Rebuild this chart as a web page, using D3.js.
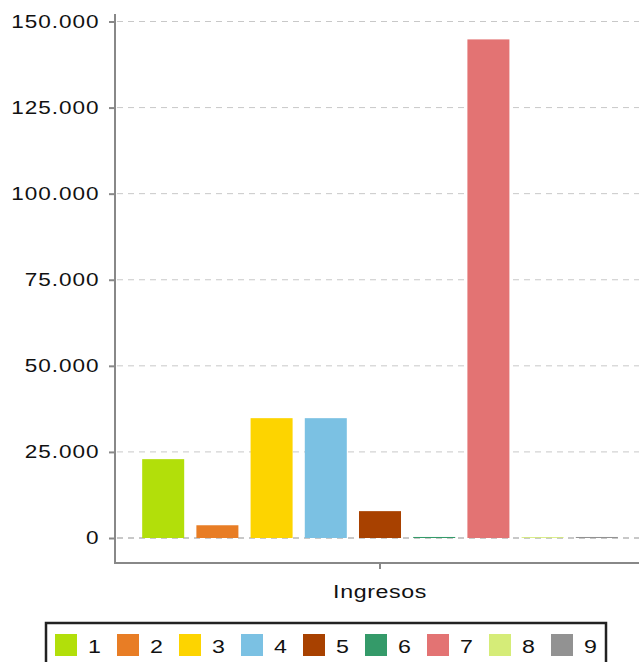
<!DOCTYPE html>
<html>
<head>
<meta charset="utf-8">
<script src="https://cdn.jsdelivr.net/npm/d3@7"></script>
<style>
	body { margin: 0; background: #fff; }
	text { font-family: "Liberation Sans", Arial, sans-serif; }
</style>
</head>
<body>
<div id="chart"></div>
<script>
const categories = ['Ingresos'];
const seriesNames = ['1', '2', '3', '4', '5', '6', '7', '8', '9'];
const seriesValues = [22900, 3700, 34800, 34800, 7800, 300, 144800, 250, 300];
const seriesColors = ['#b2df0a', '#e87d25', '#fdd400', '#7bc1e3', '#a84100', '#349a69', '#e37373', '#d5ec78', '#929292'];
const yTicks = [0, 25000, 50000, 75000, 100000, 125000, 150000];

const width = 639;
const height = 662;
const stretch = 1.22; // text in the picture is drawn wide

const svg = d3.select('#chart').append('svg')
	.attr('width', width)
	.attr('height', height);

const locale = d3.formatLocale({ decimal: ',', thousands: '.', grouping: [3], currency: ['', ''] });
const fmt = locale.format(',d');

const yScale = d3.scaleLinear()
	.domain([0, 150000])
	.range([538, 21.5]);

const x0 = d3.scaleBand()
	.domain(categories)
	.range([115, 645])
	.padding(0.0291);

const x1 = d3.scaleBand()
	.domain(seriesNames)
	.range([0, x0.bandwidth()])
	.padding(0.225);

const color = d3.scaleOrdinal().domain(seriesNames).range(seriesColors);

// gridlines
svg.append('g')
	.selectAll('line')
	.data(yTicks)
	.join('line')
	.attr('x1', 117)
	.attr('x2', width)
	.attr('y1', (d) => yScale(d))
	.attr('y2', (d) => yScale(d))
	.attr('stroke', '#c8c8c8')
	.attr('stroke-width', (d) => (d === 0 ? 2 : 1))
	.attr('stroke-dasharray', '6,5');

// bars
const data = seriesNames.map((s, i) => ({ key: s, value: seriesValues[i] }));
svg.append('g')
	.attr('transform', `translate(${x0('Ingresos')},0)`)
	.selectAll('rect')
	.data(data)
	.join('rect')
	.attr('x', (d) => x1(d.key))
	.attr('width', x1.bandwidth())
	.attr('y', (d) => yScale(d.value))
	.attr('height', (d) => yScale(0) - yScale(d.value))
	.attr('fill', (d) => color(d.key));

// y axis
const yAxis = d3.axisLeft(yScale)
	.tickValues(yTicks)
	.tickFormat(fmt)
	.tickSize(6);

const yG = svg.append('g')
	.attr('transform', 'translate(115,0)')
	.call(yAxis);
yG.select('.domain').remove();
yG.selectAll('.tick line').attr('stroke', '#888').attr('stroke-width', 2);
yG.selectAll('.tick text')
	.attr('fill', '#111')
	.attr('x', -15.5 / stretch)
	.attr('transform', `scale(${stretch},1)`)
	.style('font-size', '18.5px')
	.style('letter-spacing', '0.8px');

svg.append('line')
	.attr('x1', 115).attr('x2', 115)
	.attr('y1', 14).attr('y2', 564)
	.attr('stroke', '#888')
	.attr('stroke-width', 2);

// x axis
const xAxis = d3.axisBottom(x0)
	.tickSize(6);

const xG = svg.append('g')
	.attr('transform', 'translate(0,563)')
	.call(xAxis);
xG.select('.domain').remove();
xG.selectAll('.tick line').attr('stroke', '#888').attr('stroke-width', 2);
xG.selectAll('.tick text')
	.attr('fill', '#111')
	.attr('y', 35)
	.attr('dy', null)
	.attr('transform', `scale(${stretch},1)`)
	.style('font-size', '19px')
	.style('letter-spacing', '0.5px');

svg.append('line')
	.attr('x1', 114).attr('x2', width)
	.attr('y1', 563).attr('y2', 563)
	.attr('stroke', '#888')
	.attr('stroke-width', 2);

// legend
const legend = svg.append('g');
legend.append('rect')
	.attr('x', 46)
	.attr('y', 623)
	.attr('width', 560)
	.attr('height', 60)
	.attr('fill', 'none')
	.attr('stroke', '#222')
	.attr('stroke-width', 2.5);

const item = legend.selectAll('g.item')
	.data(seriesNames)
	.join('g')
	.attr('class', 'item')
	.attr('transform', (d, i) => `translate(${55 + i * 62},634)`);

item.append('rect')
	.attr('width', 22)
	.attr('height', 22)
	.attr('fill', (d) => color(d));

item.append('text')
	.attr('x', 33 / stretch)
	.attr('y', 19)
	.attr('transform', `scale(${stretch},1)`)
	.attr('fill', '#111')
	.style('font-size', '19px')
	.text((d) => d);
</script>
</body>
</html>
